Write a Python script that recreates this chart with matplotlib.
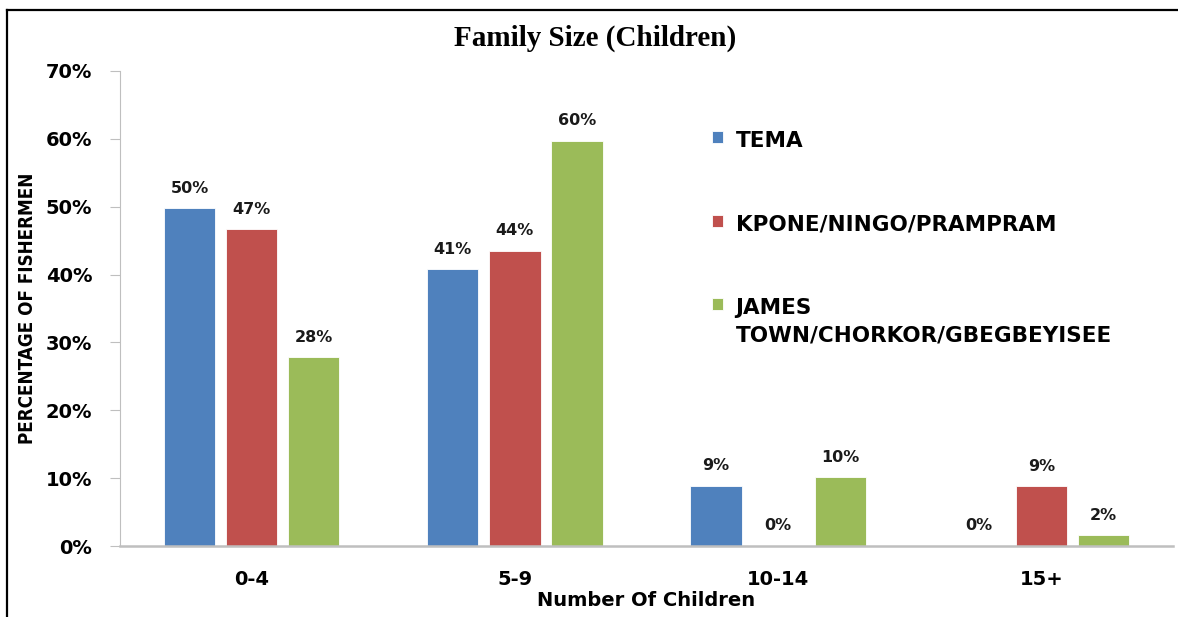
import matplotlib.pyplot as plt
from matplotlib.lines import Line2D
import numpy as np

# data (fractions)
groups = ["0-4", "5-9", "10-14", "15+"]
series_names = ["TEMA", "KPONE/NINGO/PRAMPRAM", "JAMES\nTOWN/CHORKOR/GBEGBEYISEE"]
tema = [0.498, 0.408, 0.089, 0.0]
kpone = [0.467, 0.435, 0.0, 0.088]
james = [0.278, 0.597, 0.101, 0.016]
colors = ["#4F81BD", "#C0504D", "#9BBB59"]

fig = plt.figure(figsize=(11.78, 6.17), dpi=100)
ax = fig.add_axes([120 / 1178, 71 / 617, 1053 / 1178, 475 / 617])

x = np.arange(len(groups))
width = 0.195
step = 0.236
for i, (vals, name, c) in enumerate(zip([tema, kpone, james], series_names, colors)):
    bars = ax.bar(x + (i - 1) * step, vals, width, color=c, label=name,
                  edgecolor="white", linewidth=0.6)
    for b, v in zip(bars, vals):
        ax.annotate(f"{v * 100:.0f}%", (b.get_x() + b.get_width() / 2, v),
                    xytext=(0, 9), textcoords="offset points",
                    ha="center", va="bottom", fontsize=11.5, fontweight="bold",
                    color="#1a1a1a")

ax.set_xlim(-0.5, 3.5)
ax.set_ylim(0, 0.7)
ax.set_yticks(np.arange(0, 0.71, 0.1))
ax.set_yticklabels([f"{int(round(t * 100))}%" for t in np.arange(0, 0.71, 0.1)])
ax.set_xticks(x)
ax.set_xticklabels(groups)

for s in ["top", "right"]:
    ax.spines[s].set_visible(False)
ax.spines["left"].set_color("#BFBFBF")
ax.spines["bottom"].set_color("#BFBFBF")
ax.spines["bottom"].set_linewidth(1.8)
ax.tick_params(axis="y", length=7, color="#BFBFBF", pad=13, labelsize=14)
ax.tick_params(axis="x", length=0, pad=17, labelsize=14)
for lab in ax.get_xticklabels() + ax.get_yticklabels():
    lab.set_fontweight("bold")

ax.set_xlabel("Number Of Children", fontsize=14, fontweight="bold", labelpad=2)
ax.set_ylabel("PERCENTAGE OF FISHERMEN", fontsize=13.5, fontweight="bold",
              family=["Liberation Sans Narrow", "DejaVu Sans"],
              fontstretch="condensed", labelpad=6)

fig.text(0.505, 0.938, "Family Size (Children)", ha="center", va="center",
         fontsize=21, fontweight="bold", family="Liberation Serif")

leg = ax.legend(loc="upper left", bbox_to_anchor=(712 / 1178, 1 - 131 / 617),
                bbox_transform=fig.transFigure, frameon=False,
                prop={"weight": "bold", "size": 15.5},
                handlelength=0.5, handleheight=0.5, handletextpad=0.6,
                labelspacing=2.95, borderaxespad=0, borderpad=0)
for t in leg.get_texts():
    t.set_linespacing(1.45)
# put the marker next to the first line of a wrapped label
for col in leg._legend_handle_box.get_children():
    for item in col.get_children():
        item.align = "top"

# outer frame (top and left edges visible in the reference)
fig.add_artist(Line2D([7 / 1178, 1], [1 - 10 / 617, 1 - 10 / 617], color="black", lw=1.6))
fig.add_artist(Line2D([7 / 1178, 7 / 1178], [0, 1 - 10 / 617], color="black", lw=1.6))

fig.savefig("out.png", dpi=100)
